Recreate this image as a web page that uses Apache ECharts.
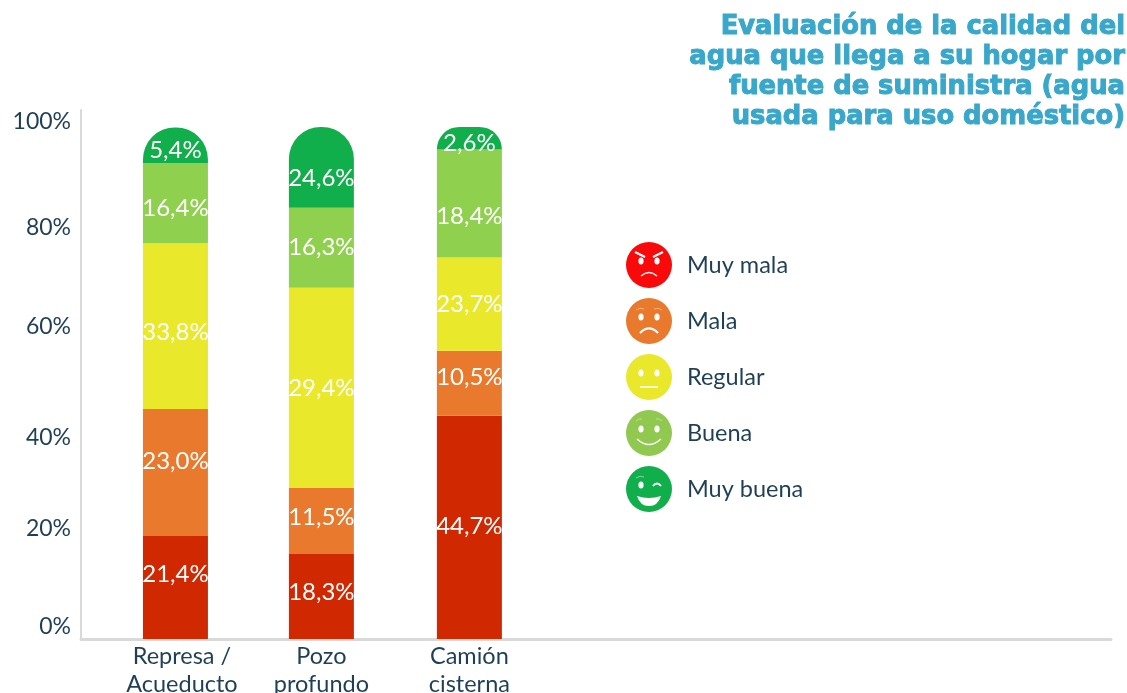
<!DOCTYPE html>
<html>
<head>
<meta charset="utf-8">
<style>html,body{margin:0;padding:0;background:#fff}#c{width:1127px;height:693px}</style>
<script src="https://cdn.jsdelivr.net/npm/echarts@6/dist/echarts.min.js"></script>
</head>
<body>
<div id="c"></div>
<script>
const titleLines = ['Evaluación de la calidad del','agua que llega a su hogar por','fuente de suministra (agua','usada para uso doméstico)'];
const categoryLines = [['Represa /','Acueducto'],['Pozo','profundo'],['Camión','cisterna']];
const seriesNames = ['Muy mala','Mala','Regular','Buena','Muy buena'];
const tickValues = [0,20,40,60,80,100];

// Printed labels, by source.
const printedMuyMala = ['21,4%','18,3%','44,7%'];
const printedMala = ['23,0%','11,5%','10,5%'];
const printedRegular = ['33,8%','29,4%','23,7%'];
const printedBuena = ['16,4%','16,3%','18,4%'];
const printedMuyBuena = ['5,4%','24,6%','2,6%'];

// Segment heights as the reference draws them (its bars are not proportional to their printed labels).
const muyMala = [20.1,16.6,43.6];
const mala = [24.8,12.9,12.7];
const regular = [32.4,39.1,18.2];
const buena = [15.6,15.6,21.1];
const muyBuena = [7.0,15.8,4.4];

const values = [muyMala,mala,regular,buena,muyBuena];
const printed = [printedMuyMala,printedMala,printedRegular,printedBuena,printedMuyBuena];
const colors = ['#d02800','#e97a2d','#e9e82a','#90d04f','#10af4c'];
const slots = [1,2,3.014];
const labelShift = [[-13,-4,-1],[-11,-4,-6],[6,0,0],[5,0,13],[5,11,5]];
const tickShift = {0:-12,20:-8,40:3,60:-5,80:-2,100:-5};
const categoryPad = ['a','b','b'];

function face(fill, mouth, brows){
  const svg = `<svg xmlns="http://www.w3.org/2000/svg" viewBox="0 0 48 48"><circle cx="24" cy="24" r="23" fill="${fill}"/>${brows}<ellipse cx="16" cy="20" rx="2.6" ry="3.6" fill="#fff"/>${mouth}</svg>`;
  return 'image://data:image/svg+xml;charset=utf-8,' + encodeURIComponent(svg);
}
const eyeR = '<ellipse cx="32" cy="20" rx="2.6" ry="3.6" fill="#fff"/>';
const icons = [
  face('#f90a0a', eyeR+'<path d="M16 35q8-7 16 0" fill="none" stroke="#fff" stroke-width="1.5"/>','<path d="M10 11l10 5M38 11l-10 5" stroke="#fff" stroke-width="2"/>'),
  face('#e97a2d', eyeR+'<path d="M15 36q9-9 18 0" fill="none" stroke="#fff" stroke-width="2.2"/>','<path d="M11 13q4-3 8-1M37 13q-4-3-8-1" fill="none" stroke="#f3b27f" stroke-width="1"/>'),
  face('#e9e82a', eyeR+'<path d="M15 34h18" stroke="#fff" stroke-width="1.5"/>',''),
  face('#90c850', eyeR+'<path d="M12 30q12 11 24 0" fill="none" stroke="#fff" stroke-width="1.5"/>','<path d="M11 12q3-3 6-2M37 12q-3-3-6-2" fill="none" stroke="#bde08f" stroke-width="1"/>'),
  face('#10af4c', '<path d="M28 21q4-5 8 0" fill="none" stroke="#fff" stroke-width="2"/><path d="M12 31q12 4 24 0q-3 10-12 10t-12-10z" fill="#fff"/>','<path d="M11 13q4-3 8-1" fill="none" stroke="#7fd7a0" stroke-width="1"/>')
];

const rich = {};
tickValues.forEach(v => {
  const s = tickShift[v];
  rich['t'+v] = {fontFamily:'Lato',fontSize:23,color:'#1f3f57',
    padding: s < 0 ? [0,0,-2*s,0] : [2*s,0,0,0]};
});

const catText = {fontFamily:'Lato',fontSize:23.5,lineHeight:28,color:'#1f3f57'};

const series = seriesNames.map((name,i) => ({
  name, type:'bar', stack:'total', barWidth:65,
  encode:{x:1,y:0},
  itemStyle:{color:colors[i], borderRadius: i===4 ? [32,32,0,0] : 0},
  label:{show:true, position:'inside', color:'#fff', fontFamily:'Lato', fontSize:24, fontWeight:400},
  data: values[i].map((v,k) => ({
    value:[v,slots[k]],
    label:{formatter:printed[i][k], offset:[0,labelShift[i][k]]}
  }))
}));

const chart = echarts.init(document.getElementById('c'),null,{renderer:'canvas'});
chart.setOption({
  animation:false,
  backgroundColor:'#fff',
  title:{
    text:titleLines.join('\n'), left:1120, top:7, textAlign:'right',
    textStyle:{fontFamily:'DejaVu Sans',fontWeight:'bold',fontSize:25.8,lineHeight:30,color:'#39a7c9',
      textBorderColor:'#39a7c9',textBorderWidth:1}
  },
  grid:{left:81,right:16,top:110,bottom:54,outerBoundsMode:'none'},
  legend:{
    orient:'vertical', left:620, top:236, itemWidth:48, itemHeight:48, itemGap:8,
    data:seriesNames.map((name,i)=>({name,icon:icons[i]})),
    textStyle:{fontFamily:'Lato',fontSize:23.5,color:'#1f3f57',padding:[0,0,0,9]}
  },
  xAxis:{
    type:'value', min:0.353, max:7.41, splitLine:{show:false},
    axisLine:{show:true,onZero:false,lineStyle:{color:'#d9d9d9',width:3}},
    axisTick:{show:false},
    axisLabel:{customValues:slots,showMinLabel:true,showMaxLabel:true,
      formatter:v=>{
        const k = slots.indexOf(v);
        return categoryLines[k].map(t=>`{${categoryPad[k]}|${t}}`).join('\n');
      },
      margin:3,
      rich:{a:{...catText,padding:[0,0,0,13]},b:{...catText}}}
  },
  yAxis:{
    type:'value', min:0, max:103.3, splitLine:{show:false},
    axisLine:{show:true,onZero:false,lineStyle:{color:'#d9d9d9',width:2}},
    axisTick:{show:false},
    axisLabel:{customValues:tickValues,margin:10,
      formatter:v=>`{t${v}|${v}%}`, rich}
  },
  series
});
</script>
</body>
</html>
